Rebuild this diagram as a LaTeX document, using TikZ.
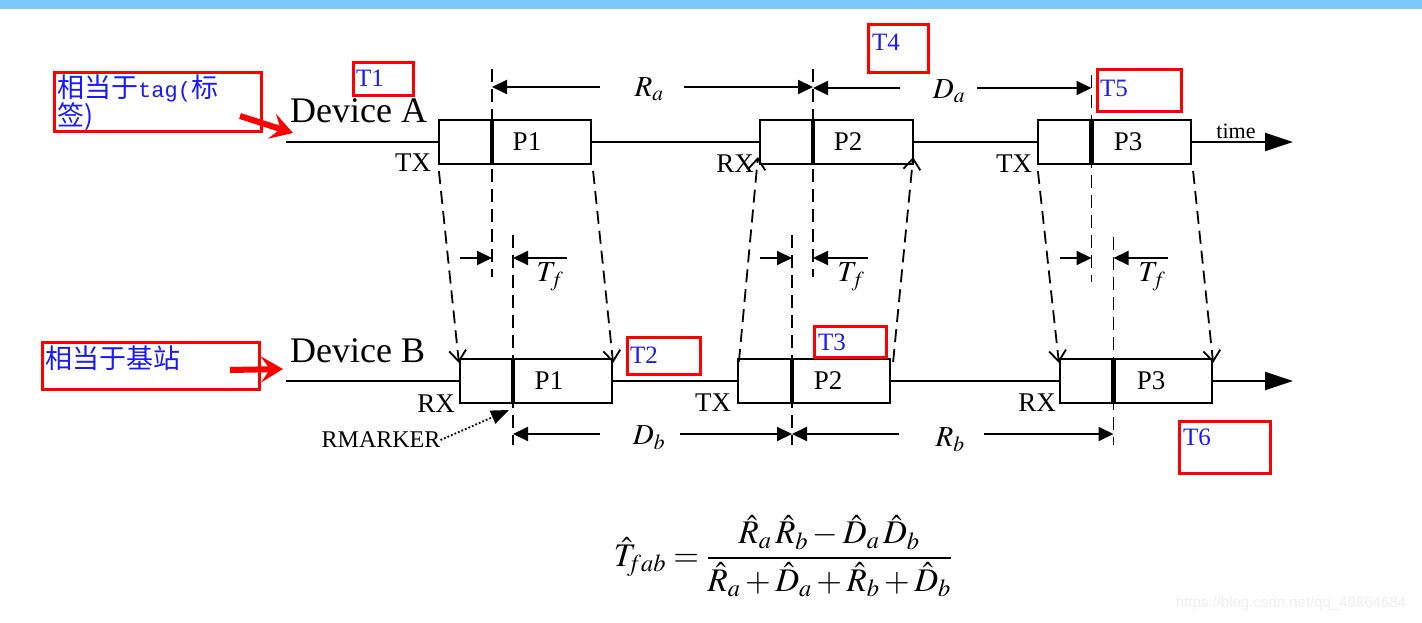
\documentclass[tikz,border=0pt]{standalone}
\usepackage{mathptmx}
\usepackage[no-math]{fontspec}
\setmainfont{Liberation Serif}
\newfontfamily\cjk{Noto Sans CJK SC}
\newfontfamily\monof{Liberation Mono}
\newfontfamily\sansf{Liberation Sans}
\usetikzlibrary{arrows.meta}
\newcommand\myfs[1]{\fontsize{#1}{#1}\selectfont}
\definecolor{barblue}{RGB}{125,200,255}
\definecolor{annblue}{RGB}{25,25,250}
\definecolor{annred}{RGB}{255,0,0}
\definecolor{wmgray}{RGB}{238,238,238}
\begin{document}
\begin{tikzpicture}[x=1pt,y=-1pt,
  tl/.style={line width=2pt},
  pbox/.style={draw,line width=2.2pt,minimum height=44pt,inner sep=0pt},
  bar/.style={line width=4.5pt},
  vdash/.style={line width=1.8pt,dash pattern=on 13pt off 7pt},
  sl/.style={line width=1.8pt,dash pattern=on 13pt off 7pt,-{Straight Barb[length=11pt,width=17pt,line width=1.8pt]}},
  dim/.style={line width=2pt,-{Triangle[length=15pt,width=14pt]}},
  lab/.style={inner sep=0pt,font=\myfs{27}},
  plab/.style={inner sep=0pt,font=\myfs{27}},
  mlab/.style={inner sep=0pt,font=\myfs{29}},
  redbox/.style={draw=annred,line width=3pt},
  redarrow/.style={draw=annred,line width=6pt,-{Stealth[length=22pt,width=26pt,inset=9pt]}},
  tlab/.style={inner sep=0pt,anchor=west,text=annblue,font=\myfs{25}},
]
\useasboundingbox (0,0) rectangle (1422,623);
\fill[barblue] (0,0) rectangle (1422,9);

% boxes
\node[pbox,minimum width=152pt] (a1) at (515,142) {};
\node[pbox,minimum width=153pt] (a2) at (836.5,142) {};
\node[pbox,minimum width=153pt] (a3) at (1114.5,142) {};
\node[pbox,minimum width=152pt] (b1) at (536,381) {};
\node[pbox,minimum width=152pt] (b2) at (814,381) {};
\node[pbox,minimum width=152pt] (b3) at (1136,381) {};

% time lines
\coordinate (sa) at (286,142);
\coordinate (ea) at (1293,142);
\coordinate (sb) at (286,381);
\coordinate (eb) at (1293,381);
\draw[tl] (sa) -- (a1.west) (a1.east) -- (a2.west) (a2.east) -- (a3.west);
\draw[tl,-{Triangle[length=28pt,width=18pt]}] (a3.east) -- (ea);
\draw[tl] (sb) -- (b1.west) (b1.east) -- (b2.west) (b2.east) -- (b3.west);
\draw[tl,-{Triangle[length=28pt,width=18pt]}] (b3.east) -- (eb);

% marker bars
\coordinate (xa1) at (492,0);
\coordinate (xa2) at (813,0);
\coordinate (xa3) at (1091.5,0);
\coordinate (xb1) at (513,0);
\coordinate (xb2) at (792,0);
\coordinate (xb3) at (1113.5,0);
\foreach \b/\x in {a1/xa1,a2/xa2,a3/xa3,b1/xb1,b2/xb2,b3/xb3}
  \draw[bar] (\b.north -| \x) -- (\b.south -| \x);

% vertical dashed lines
\draw[vdash] (492,69) -- (492,277);
\draw[vdash] (813,69) -- (813,277);
\draw[vdash] (1091.5,75) -- (1091.5,282);
\draw[vdash] (513,235) -- (513,445);
\draw[vdash] (792,235) -- (792,445);
\draw[vdash] (1113.5,237) -- (1113.5,445);

% packet propagation arrows
\draw[sl] (a1.south west) ++(1,6) -- ([xshift=0pt,yshift=-5pt]b1.north west);
\draw[sl] (a1.south east) ++(1,6) -- ([xshift=0pt,yshift=-5pt]b1.north east);
\draw[sl] ([xshift=2pt,yshift=-4pt]b2.north west) -- ([xshift=-1pt,yshift=8pt]a2.south west);
\draw[sl] ([xshift=2pt,yshift=-4pt]b2.north east) -- ([xshift=-1pt,yshift=8pt]a2.south east);
\draw[sl] (a3.south west) ++(1,6) -- ([xshift=0pt,yshift=-5pt]b3.north west);
\draw[sl] (a3.south east) ++(1,6) -- ([xshift=0pt,yshift=-5pt]b3.north east);

% Ra, Da
\coordinate (ra1) at (600,87);
\coordinate (ra2) at (684,87);
\draw[dim] (ra1) -- (ra1 -| xa1);
\draw[dim] (ra2) -- (ra2 -| xa2);
\node[mlab] (ra) at (649,89) {$R_a$};
\coordinate (da1) at (900,88);
\coordinate (da2) at (977,88);
\draw[dim] (da1) -- (da1 -| xa2);
\draw[dim] (da2) -- (da2 -| xa3);
\node[mlab] (da) at (949,91) {$D_a$};

% Tf
\foreach \l/\r/\ra/\la/\lx in {460/xa1/567/xb1/550, 760/xb2/868/xa2/851, 1060/xa3/1168/xb3/1152}{
  \coordinate (p) at (\l,258);
  \coordinate (q) at (\ra,258);
  \draw[dim] (p) -- (p -| \r);
  \draw[dim] (q) -- (q -| \la);
  \node[mlab] at (\lx,277) {$T_f$};
}

% Db, Rb
\coordinate (db1) at (600,434);
\coordinate (db2) at (680,434);
\draw[dim] (db1) -- (db1 -| xb1);
\draw[dim] (db2) -- (db2 -| xb2);
\node[mlab] (db) at (649,438) {$D_b$};
\coordinate (rb1) at (899,434);
\coordinate (rb2) at (984,434);
\draw[dim] (rb1) -- (rb1 -| xb2);
\draw[dim] (rb2) -- (rb2 -| xb3);
\node[mlab] (rb) at (950,440) {$R_b$};

% labels
\node[inner sep=0pt,anchor=base west,font=\myfs{36}] (deva) at (290,123) {Device A};
\node[inner sep=0pt,anchor=base west,font=\myfs{36}] (devb) at (290,362) {Device B};
\node[lab] (txa1) at (413,163) {TX};
\node[lab] (rxa2) at (735,164) {RX};
\node[lab] (txa3) at (1014,164) {TX};
\node[lab] (rxb1) at (436,404) {RX};
\node[lab] (txb2) at (713,403) {TX};
\node[lab] (rxb3) at (1037,403) {RX};
\node[plab] (p1a) at (527,142) {P1};
\node[plab] (p2a) at (848,142) {P2};
\node[plab] (p3a) at (1128,142) {P3};
\node[plab] (p1b) at (549,381) {P1};
\node[plab] (p2b) at (828,381) {P2};
\node[plab] (p3b) at (1151,381) {P3};
\node[inner sep=0pt,font=\myfs{22}] (time) at (1236,131) {time};
\node[inner sep=0pt,font=\myfs{24}] (rm) at (381,440) {RMARKER};
\coordinate (rmt) at (509,410);
\draw[line width=1.8pt,dotted,-{Triangle[length=18pt,width=14pt]}] (rm.east) -- (rmt);

% formula
\node[inner sep=0pt,font=\myfs{33}] (fml) at (783,556)
  {$\displaystyle\hat{T}_{\!fab}=\frac{\hat{R}_a\,\hat{R}_b-\hat{D}_a\,\hat{D}_b}{\hat{R}_a+\hat{D}_a+\hat{R}_b+\hat{D}_b}$};

% annotations
\draw[redbox] (54,73) rectangle (261,132);
\node[inner sep=0pt,anchor=north west,align=left,text=annblue,font=\myfs{27}] (ann1) at (57,75)
  {\cjk 相当于{\monof\myfs{22}tag(}标\\[-1pt]\cjk 签)};
\coordinate (ar1s) at (240,116);
\coordinate (ar1e) at (293,133);
\draw[redarrow] (ar1s) -- (ar1e);
\draw[redbox] (42,342) rectangle (259,389);
\node[inner sep=0pt,anchor=west,text=annblue,font=\myfs{27}] (ann2) at (45,358) {\cjk 相当于基站};
\coordinate (ar2s) at (230,370);
\coordinate (ar2e) at (283,369);
\draw[redarrow] (ar2s) -- (ar2e);

\draw[redbox] (353,63) rectangle (413,96);
\node[tlab] (t1) at (356,78) {T1};
\draw[redbox] (868,25) rectangle (928,73);
\node[tlab] (t4) at (872,42) {T4};
\draw[redbox] (1097,70) rectangle (1181,112);
\node[tlab] (t5) at (1100,88) {T5};
\draw[redbox] (627,337) rectangle (700,374);
\node[tlab] (t2) at (630,355) {T2};
\draw[redbox] (814,326) rectangle (886,357);
\node[tlab] (t3) at (818,342) {T3};
\draw[redbox] (1179,421) rectangle (1270,473);
\node[tlab] (t6) at (1183,437) {T6};

% watermark
\node[inner sep=0pt,text=wmgray,font=\sansf\myfs{15}] (wm) at (1291,604) {https://blog.csdn.net/qq\_49864684};
\end{tikzpicture}
\end{document}
